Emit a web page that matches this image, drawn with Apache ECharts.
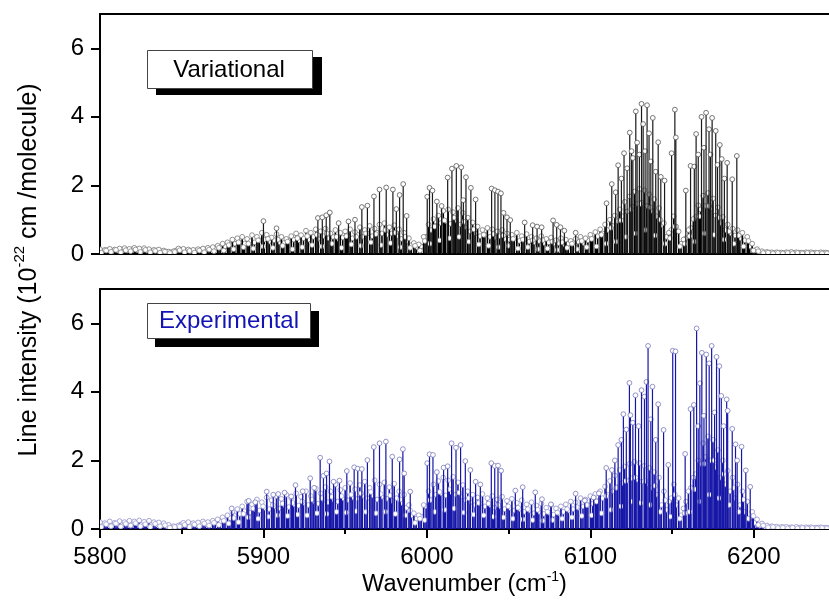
<!DOCTYPE html>
<html>
<head>
<meta charset="utf-8">
<script src="https://cdn.jsdelivr.net/npm/echarts@6/dist/echarts.min.js"></script>
<style>
  html, body { margin: 0; padding: 0; background: #fff; }
  #chart { width: 829px; height: 604px; }
</style>
</head>
<body>
<div id="chart"></div>
<script>
// weak lines sit on a regular 3 cm-1 grid, the other layers are shifted inside each step
const xStart = 5800
const xStep = 3

const varWeakA = [
  .14, .12, .15, .13, .16, .17, .15, .18, .16, .17,
  .14, .12, .13, .1, .07, .08, .16, .15, .13, .12,
  .14, .16, .18, .2, .24, .3, .34, .42, .46, .5,
  .44, .55, .5, .62, .56, .48, .58, .5, .44, .52,
  .6, .55, .68, .62, .72, .66, .74, .6, .7, .62,
  .66, .72, .64, .78, .7, .82, .74, .86, .9, .78,
  .84, .72, .62, .46, .32, .28, .5, .86, 1.02, 1.12,
  1.26, 1.3, 1.22, 1.34, 1.2, 1.06, .92, .8, .7, .76,
  .72, .66, .7, .6, .56, .62, .52, .58, .5, .46,
  .52, .44, .48, .4, .46, .42, .38, .44, .5, .46,
  .56, .64, .72, .86, 1.0, 1.12, 1.3, 1.52, 1.68, 1.82,
  1.9, 1.86, 1.74, 1.6, 1.34, .9, .62, 1.1, .66, .42,
  .7, 1.02, 1.42, 1.7, 1.78, 1.62, 1.36, 1.08, .86, .74,
  .7, .62, .5, .3, .14, .08, .06, .05, .05, .04,
  .05, .06, .05, .04, .05, .05, .04, .05, .04
]
const varWeakB = [
  .09, .11, .08, .1, .12, .1, .13, .11, .12, .1,
  .09, .1, .08, .07, .05, .1, .12, .1, .09, .1,
  .12, .13, .14, .17, .2, .22, .28, .3, .34, .3,
  .38, .34, .4, .42, .36, .4, .34, .32, .38, .42,
  .4, .46, .42, .5, .44, .52, .46, .5, .44, .48,
  .54, .46, .56, .5, .6, .52, .62, .6, .56, .6,
  .52, .44, .36, .26, .2, .22, .5, .7, .82, .9,
  .96, .88, .98, .86, .78, .66, .6, .52, .56, .5,
  .48, .52, .44, .42, .46, .38, .42, .36, .34, .38,
  .32, .34, .3, .32, .28, .3, .34, .36, .32, .4,
  .46, .52, .6, .7, .82, .96, 1.1, 1.24, 1.38, 1.46,
  1.5, 1.4, 1.26, 1.1, .84, .5, .7, .8, .3, .46,
  .76, 1.08, 1.3, 1.4, 1.32, 1.12, .9, .7, .6, .54,
  .46, .4, .22, .1, .06, .04, .04, .03, .04, .03,
  .04, .03, .04, .03, .04, .03, .03, .04, .03
]
const varWeakC = [
  .04, .1, .06, .12, .05, .11, .08, .13, .06, .12,
  .05, .09, .04, .07, .03, .06, .11, .05, .09, .04,
  .1, .05, .13, .08, .18, .1, .26, .14, .34, .2,
  .3, .16, .4, .22, .44, .18, .42, .24, .36, .14,
  .46, .2, .52, .26, .56, .22, .6, .3, .5, .18,
  .52, .28, .5, .24, .6, .34, .58, .26, .7, .32,
  .62, .2, .5, .18, .24, .1, .38, .3, .8, .4,
  .98, .46, 1.06, .5, .94, .36, .72, .28, .56, .24,
  .58, .2, .54, .24, .44, .16, .42, .2, .4, .14,
  .4, .16, .36, .12, .34, .18, .3, .14, .38, .2,
  .44, .22, .56, .3, .76, .36, .98, .5, 1.3, .6,
  1.46, .7, 1.36, .54, 1.0, .3, .46, .8, .22, .3,
  .52, .36, 1.1, .6, 1.4, .56, 1.06, .42, .66, .3,
  .54, .22, .38, .1, .08, .03, .04, .02, .03, .02,
  .03, .02, .03, .02, .03, .02, .03, .02, .02
]
const varStrong = [
  [5900, 0.96], [5908, 0.75], [5933.3, 1.05], [5936, 1.07], [5938.4, 1.13], [5940.6, 1.21],
  [5946, 0.9], [5952, 0.95], [5956, 1.0], [5960.2, 1.37], [5963.6, 1.41], [5967.6, 1.68],
  [5971, 1.88], [5975.1, 1.94], [5979.2, 1.88], [5981.3, 1.31], [5983.3, 1.72], [5985.5, 2.04],
  [5987.6, 1.11], [6000.2, 1.67], [6001.6, 1.93], [6003.4, 1.85], [6006.1, 1.53], [6009, 1.4],
  [6012.7, 2.23], [6015.3, 2.49], [6018, 2.57], [6021, 2.53], [6022.3, 1.57], [6023.9, 2.24],
  [6026.9, 1.93], [6029.8, 1.59], [6039.6, 1.91], [6041.6, 1.86], [6043.5, 1.82], [6045.3, 1.77],
  [6046.9, 1.2], [6049, 1.07], [6051, 0.99], [6059.8, 0.92], [6064.7, 0.84], [6067.4, 0.8],
  [6070.2, 0.78], [6077.2, 0.98], [6079.4, 0.85], [6081.7, 0.78], [6084.1, 0.68], [6091, 0.62],
  [6109.9, 1.48], [6113.1, 2.04], [6115.5, 1.8], [6117, 2.59], [6119, 2.2], [6120.6, 2.94],
  [6122.5, 2.5], [6124.1, 3.54], [6125.2, 3.0], [6126, 2.8], [6127.8, 4.16], [6128.6, 3.25],
  [6130, 2.9], [6131.3, 4.38], [6132.3, 3.79], [6133.5, 3.0], [6134.7, 4.34], [6135.9, 3.52],
  [6137, 2.7], [6138.2, 3.97], [6140, 2.4], [6141.5, 3.26], [6143.1, 2.25], [6145.4, 2.14],
  [6149.7, 2.94], [6151.7, 4.21], [6152.3, 3.4], [6158.4, 1.85], [6161.3, 2.57], [6163.6, 2.55],
  [6164.7, 3.5], [6166, 2.9], [6168, 4.0], [6169.5, 3.1], [6170.8, 4.12], [6172.6, 3.64],
  [6173.5, 2.9], [6174.5, 3.97], [6176.7, 3.59], [6177.8, 2.6], [6179.2, 3.18], [6180.4, 2.77],
  [6182, 2.2], [6183.7, 2.66], [6186.8, 2.18], [6189.6, 2.86]
]

const expWeakA = [
  .2, .17, .22, .18, .23, .2, .24, .22, .25, .21,
  .24, .2, .19, .17, .12, .08, .1, .18, .2, .17,
  .19, .22, .2, .24, .28, .34, .4, .5, .58, .66,
  .8, .72, .86, .78, .92, .84, .96, .88, 1.0, .9,
  1.04, .94, 1.1, .96, 1.18, 1.04, 1.22, 1.1, 1.3, 1.14,
  1.2, 1.34, 1.16, 1.28, 1.38, 1.2, 1.42, 1.3, 1.36, 1.22,
  1.32, 1.1, 1.0, .7, .46, .4, .7, 1.1, 1.3, 1.4,
  1.5, 1.42, 1.52, 1.36, 1.28, 1.1, 1.0, .92, 1.02, .9,
  .96, .86, .94, .82, .88, .76, .84, .72, .78, .68,
  .74, .62, .7, .6, .66, .72, .8, .78, .9, .86,
  .96, 1.02, 1.1, 1.24, 1.4, 1.56, 1.72, 1.82, 1.9, 1.96,
  1.92, 1.84, 1.78, 1.66, 1.5, 1.1, .8, 1.3, .9, .6,
  1.1, 1.5, 2.0, 2.5, 2.7, 2.6, 2.3, 2.0, 1.7, 1.5,
  1.3, 1.1, .8, .5, .28, .16, .1, .08, .07, .06,
  .06, .05, .06, .05, .05, .05, .04, .05, .04
]
const expWeakB = [
  .12, .14, .11, .15, .13, .16, .14, .16, .13, .15,
  .12, .13, .11, .08, .06, .07, .13, .12, .14, .13,
  .15, .14, .17, .2, .22, .26, .32, .38, .44, .52,
  .48, .58, .54, .62, .58, .66, .6, .7, .64, .72,
  .68, .76, .7, .8, .74, .84, .78, .86, .8, .9,
  .84, .92, .88, .96, .9, .98, .86, .94, .88, .82,
  .9, .76, .62, .4, .3, .36, .66, .86, 1.0, 1.04,
  .98, 1.08, 1.0, .94, .84, .78, .7, .74, .66, .7,
  .62, .66, .58, .62, .54, .58, .5, .54, .46, .5,
  .44, .48, .42, .46, .5, .54, .58, .62, .66, .7,
  .74, .82, .9, 1.0, 1.1, 1.22, 1.34, 1.42, 1.48, 1.44,
  1.38, 1.3, 1.2, 1.0, .7, .56, .9, .7, .4, .8,
  1.2, 1.6, 1.9, 2.1, 2.0, 1.8, 1.5, 1.3, 1.1, .9,
  .7, .5, .3, .18, .1, .07, .06, .05, .04, .05,
  .04, .04, .04, .03, .04, .03, .04, .03, .03
]
const expWeakC = [
  .06, .14, .08, .16, .07, .15, .1, .17, .08, .14,
  .06, .15, .08, .11, .04, .06, .07, .12, .06, .13,
  .08, .16, .1, .18, .12, .24, .16, .32, .2, .44,
  .34, .6, .3, .66, .36, .7, .4, .74, .38, .76,
  .42, .8, .4, .86, .46, .9, .44, .94, .5, .96,
  .48, 1.0, .52, 1.04, .5, 1.08, .46, 1.02, .5, .98,
  .44, .86, .4, .54, .18, .3, .26, .84, .5, 1.08,
  .56, 1.16, .6, 1.06, .48, .9, .42, .76, .4, .74,
  .36, .7, .34, .66, .3, .62, .28, .58, .26, .56,
  .24, .5, .26, .48, .3, .58, .34, .64, .38, .7,
  .4, .8, .46, .96, .56, 1.2, .66, 1.4, .8, 1.5,
  .76, 1.4, .7, 1.26, .5, .84, .36, 1.0, .3, .46,
  .5, 1.16, .8, 1.9, 1.0, 2.0, .9, 1.6, .7, 1.2,
  .5, .86, .3, .38, .12, .1, .05, .06, .03, .04,
  .02, .04, .02, .03, .02, .03, .02, .03, .02
]
const expStrong = [
  [5880.6, 0.6], [5891, 0.82], [5895, 0.78], [5902, 1.09], [5906, 1.0], [5909, 1.02],
  [5912.9, 1.06], [5917, 0.95], [5919.6, 1.28], [5924, 1.1], [5928.6, 1.48], [5931, 1.2],
  [5934.7, 2.08], [5936.7, 1.55], [5938.6, 1.62], [5940.4, 1.97], [5942.9, 1.38], [5946.5, 1.41],
  [5951, 1.69], [5955.5, 1.8], [5957.7, 1.76], [5960.2, 1.75], [5963.6, 2.01], [5967.5, 2.39],
  [5971, 2.5], [5974.9, 2.55], [5978.8, 2.11], [5983.3, 2.03], [5985.3, 2.33], [5986.1, 1.62],
  [5989.8, 1.09], [6000.2, 1.92], [6001.6, 2.18], [6003.7, 2.16], [6006.1, 1.66], [6010.2, 1.79],
  [6012.7, 1.83], [6015.1, 2.5], [6017.8, 2.37], [6020.6, 2.45], [6023.5, 1.98], [6026.6, 1.72],
  [6029.8, 1.38], [6032.7, 1.3], [6039.4, 1.92], [6041.5, 1.84], [6043.5, 1.85], [6045.4, 1.7],
  [6054.1, 1.12], [6058.6, 1.22], [6066.3, 1.07], [6070.4, 0.87], [6075.9, 0.72], [6091, 1.03],
  [6096.6, 0.83], [6102, 0.92], [6105.2, 1.04],
  [6109.7, 1.78], [6113.2, 1.72], [6115, 2.0], [6117, 2.45], [6119, 2.6], [6120.2, 3.35],
  [6122, 2.9], [6123.9, 4.26], [6124.5, 3.32], [6126, 3.1], [6127.6, 3.9], [6129.5, 3.0],
  [6131.3, 4.05], [6133.1, 3.86], [6134.3, 4.29], [6135.3, 5.34], [6137, 3.2], [6138, 4.15],
  [6140, 2.6], [6141.5, 3.64], [6144.8, 2.89], [6147.7, 1.87], [6150.4, 5.2], [6152.1, 5.18],
  [6158, 2.19], [6161.3, 3.5], [6163.3, 3.62], [6165, 5.85], [6166, 3.0], [6167, 4.25],
  [6168.2, 5.14], [6169.5, 3.3], [6170.9, 5.09], [6172.7, 4.83], [6174.2, 5.34], [6176, 3.4],
  [6177.2, 5.02], [6178.9, 4.75], [6180.1, 3.88], [6181.5, 3.0], [6183.4, 3.78], [6184, 3.45],
  [6186.8, 2.92], [6188.8, 2.47], [6189.8, 2.0], [6192.5, 2.4], [6195.1, 1.71], [6197.8, 1.23]
]

const yLabels = [0, 2, 4, 6]
const yMinor = [1, 3, 5]
const xLabels = [5800, 5900, 6000, 6100, 6200]
const xMinor = [5850, 5950, 6050, 6150]

const FONT = '"Liberation Sans", Arial, sans-serif'
const BLUE = '#1616a8'

const toPairs = (vals, shift) => vals.map((v, i) => [xStart + shift + i * xStep, v])

function sticks(color, ring, width) {
  return function (params, api) {
    const x = api.value(0)
    const base = api.coord([x, 0])
    const top = api.coord([x, api.value(1)])
    return {
      type: 'group',
      children: [
        { type: 'line', shape: { x1: base[0], y1: base[1], x2: top[0], y2: top[1] }, style: { stroke: color, lineWidth: width } },
        { type: 'circle', shape: { cx: top[0], cy: top[1], r: 2.4 }, style: { fill: '#fff', stroke: ring, lineWidth: 0.8 } }
      ]
    }
  }
}

function layer(data, xi, yi, color, ring, width) {
  return {
    type: 'custom',
    xAxisIndex: xi,
    yAxisIndex: yi,
    renderItem: sticks(color, ring, width),
    encode: { x: 0, y: 1 },
    clip: true,
    animation: false,
    data: data
  }
}

const xBase = { type: 'value', min: 5800, max: 6246, splitLine: { show: false } }
const yBase = { type: 'value', min: 0, max: 7, splitLine: { show: false } }
const line2 = { show: true, onZero: false, lineStyle: { color: '#000', width: 2 } }

const chart = echarts.init(document.getElementById('chart'))
const option = {
  animation: false,
  backgroundColor: '#fff',
  grid: [
    { left: 100, top: 14, width: 729, height: 240 },
    { left: 100, top: 289, width: 729, height: 240 }
  ],
  xAxis: [
    { ...xBase, gridIndex: 0, position: 'bottom', axisLine: line2, axisTick: { show: false }, axisLabel: { show: false } },
    { ...xBase, gridIndex: 0, position: 'top', axisLine: line2, axisTick: { show: false }, axisLabel: { show: false } },
    {
      ...xBase, gridIndex: 1, position: 'bottom', axisLine: line2,
      axisTick: { customValues: xLabels, length: 9, lineStyle: { color: '#000', width: 2 } },
      axisLabel: { customValues: xLabels, margin: 16, color: '#000', fontSize: 24, fontFamily: FONT, formatter: v => String(v) },
      name: '{a|Wavenumber (cm}{s|-1}{a|)}',
      nameLocation: 'middle',
      nameGap: 40,
      nameTextStyle: {
        rich: {
          a: { fontSize: 23.5, fontFamily: FONT, color: '#000', lineHeight: 27, verticalAlign: 'bottom' },
          s: { fontSize: 14, fontFamily: FONT, color: '#000', lineHeight: 27, verticalAlign: 'top' }
        }
      }
    },
    {
      ...xBase, gridIndex: 1, position: 'bottom', axisLine: { show: false, onZero: false },
      axisTick: { customValues: xMinor, length: 5, lineStyle: { color: '#000', width: 2 } },
      axisLabel: { show: false }
    },
    { ...xBase, gridIndex: 1, position: 'top', axisLine: line2, axisTick: { show: false }, axisLabel: { show: false } }
  ],
  yAxis: [
    {
      ...yBase, gridIndex: 0, axisLine: line2,
      axisTick: { customValues: yLabels, length: 9, lineStyle: { color: '#000', width: 2 } },
      axisLabel: { customValues: yLabels, margin: 16, color: '#000', fontSize: 24, fontFamily: FONT }
    },
    {
      ...yBase, gridIndex: 0, axisLine: { show: false, onZero: false },
      axisTick: { customValues: yMinor, length: 5, lineStyle: { color: '#000', width: 2 } },
      axisLabel: { show: false }
    },
    {
      ...yBase, gridIndex: 1, axisLine: line2,
      axisTick: { customValues: yLabels, length: 9, lineStyle: { color: '#000', width: 2 } },
      axisLabel: { customValues: yLabels, margin: 16, color: '#000', fontSize: 24, fontFamily: FONT }
    },
    {
      ...yBase, gridIndex: 1, axisLine: { show: false, onZero: false },
      axisTick: { customValues: yMinor, length: 5, lineStyle: { color: '#000', width: 2 } },
      axisLabel: { show: false }
    }
  ],
  graphic: [
    // y title, shared by both panels
    {
      type: 'text',
      x: 27, y: 270,
      rotation: Math.PI / 2,
      style: {
        text: '{a|Line intensity (10}{s|-22}{a| cm /molecule)}',
        align: 'center',
        verticalAlign: 'middle',
        rich: {
          a: { fontSize: 25, fontFamily: FONT, fill: '#000', lineHeight: 30, verticalAlign: 'bottom' },
          s: { fontSize: 15, fontFamily: FONT, fill: '#000', lineHeight: 30, verticalAlign: 'top' }
        }
      }
    },
    // label boxes with drop shadow
    { type: 'rect', shape: { x: 156, y: 57, width: 166, height: 38 }, style: { fill: '#000' } },
    { type: 'rect', shape: { x: 147.5, y: 50.5, width: 165, height: 38 }, style: { fill: '#fff', stroke: '#444', lineWidth: 1 } },
    { type: 'text', x: 229, y: 70, style: { text: 'Variational', fill: '#000', font: '24px ' + FONT, align: 'center', verticalAlign: 'middle' } },
    { type: 'rect', shape: { x: 155, y: 311, width: 164, height: 36 }, style: { fill: '#000' } },
    { type: 'rect', shape: { x: 147.5, y: 303.5, width: 163, height: 35 }, style: { fill: '#fff', stroke: '#444', lineWidth: 1 } },
    { type: 'text', x: 229, y: 321, style: { text: 'Experimental', fill: '#1414b4', font: '24px ' + FONT, align: 'center', verticalAlign: 'middle' } }
  ],
  series: [
    layer(toPairs(varWeakB, xStep / 2), 0, 0, '#000', '#777', 1.6),
    layer(toPairs(varWeakA, 0), 0, 0, '#000', '#777', 1.6),
    layer(toPairs(varWeakC, xStep / 4), 0, 0, '#000', '#888', 1.2),
    layer(varStrong, 0, 0, '#1a1a1a', '#555', 1.2),
    layer(toPairs(expWeakB, xStep / 2), 2, 2, BLUE, '#9090c8', 1.6),
    layer(toPairs(expWeakA, 0), 2, 2, BLUE, '#9090c8', 1.6),
    layer(toPairs(expWeakC, xStep / 4), 2, 2, BLUE, '#a0a0d0', 1.2),
    layer(expStrong, 2, 2, BLUE, '#7878bc', 1.2)
  ]
}

chart.setOption(option)
window.addEventListener('resize', () => {
  chart.resize()
})
</script>
</body>
</html>
